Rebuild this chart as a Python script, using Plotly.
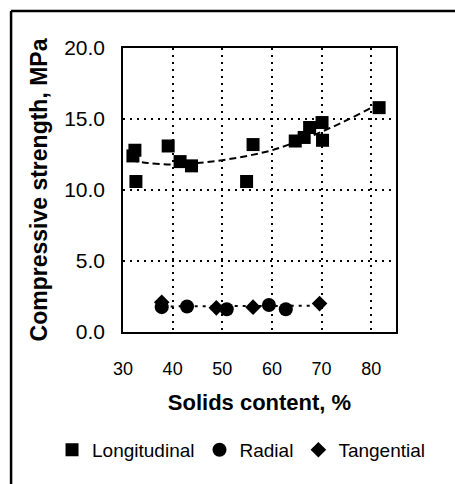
import plotly.graph_objects as go

# ---- data ----
long_x = [32.0, 32.4, 32.6, 39.1, 41.5, 43.8, 54.9, 56.2, 64.7, 66.5, 67.6, 70.1, 70.2, 81.6]
long_y = [12.4, 12.8, 10.6, 13.1, 12.0, 11.7, 10.6, 13.2, 13.45, 13.7, 14.4, 14.75, 13.5, 15.8]

rad_x = [37.8, 42.9, 50.9, 59.4, 62.8]
rad_y = [1.75, 1.8, 1.6, 1.9, 1.6]

tan_x = [37.8, 48.8, 56.2, 69.6]
tan_y = [2.1, 1.7, 1.75, 2.0]

# trend lines
long_trend_x = [31.6, 35, 40, 45, 50, 55, 60, 65, 70, 75, 80, 80.8]
long_trend_y = [12.1, 11.9, 11.8, 11.9, 12.1, 12.4, 12.8, 13.4, 14.1, 14.9, 15.8, 16.0]
rt_trend_x = [38, 70]
rt_trend_y = [1.8, 1.85]

x_ticks = [30, 40, 50, 60, 70, 80]
y_ticks = [0, 5, 10, 15, 20]

FONT = "Liberation Sans, Arial, sans-serif"

fig = go.Figure()
fig.add_trace(go.Scatter(x=long_trend_x, y=long_trend_y, mode="lines", line_shape="spline",
                         line=dict(color="black", width=2, dash="7px,4px"),
                         showlegend=False, hoverinfo="skip"))
fig.add_trace(go.Scatter(x=rt_trend_x, y=rt_trend_y, mode="lines",
                         line=dict(color="black", width=2, dash="3px,5px"),
                         showlegend=False, hoverinfo="skip"))
fig.add_trace(go.Scatter(x=long_x, y=long_y, mode="markers", name="Longitudinal",
                         marker=dict(symbol="square", size=13, color="black")))
fig.add_trace(go.Scatter(x=rad_x, y=rad_y, mode="markers", name="Radial",
                         marker=dict(symbol="circle", size=14, color="black")))
fig.add_trace(go.Scatter(x=tan_x, y=tan_y, mode="markers", name="Tangential",
                         marker=dict(symbol="diamond", size=12, color="black")))

grid = dict(showgrid=True, gridcolor="black", gridwidth=1.5, griddash="2px,5px",
            zeroline=False, showline=True, linecolor="black", linewidth=1.5, mirror=True,
            ticks="")

fig.update_layout(
    width=455, height=484,
    margin=dict(l=123, r=59, t=48, b=152),
    paper_bgcolor="white", plot_bgcolor="white",
    font=dict(family=FONT, color="black"),
    xaxis=dict(range=[30, 85], tickvals=x_ticks, ticklabelstandoff=20,
               tickfont=dict(size=18, family=FONT),
               title=dict(text="Solids content, %", font=dict(size=22, weight="bold", family=FONT),
                          standoff=16),
               **grid),
    yaxis=dict(range=[0, 20], tickvals=y_ticks, tickformat=".1f", ticklabelstandoff=12,
               tickfont=dict(size=21, family=FONT),
               title=dict(text="Compressive strength, MPa",
                          font=dict(size=23, weight="bold", family=FONT), standoff=10),
               **grid),
    legend=dict(orientation="h", x=-0.26, xanchor="left", y=-0.415, yanchor="middle",
                font=dict(size=19, family=FONT), itemwidth=30, tracegroupgap=0,
                bgcolor="rgba(0,0,0,0)"),
    shapes=[
        dict(type="line", xref="paper", yref="paper", x0=-0.41, x1=1.22, y0=1.13, y1=1.13,
             line=dict(color="black", width=2.5)),
        dict(type="line", xref="paper", yref="paper", x0=-0.41, x1=-0.41, y0=1.13, y1=-0.54,
             line=dict(color="black", width=2.5)),
    ],
)

fig.write_html("out.html")
